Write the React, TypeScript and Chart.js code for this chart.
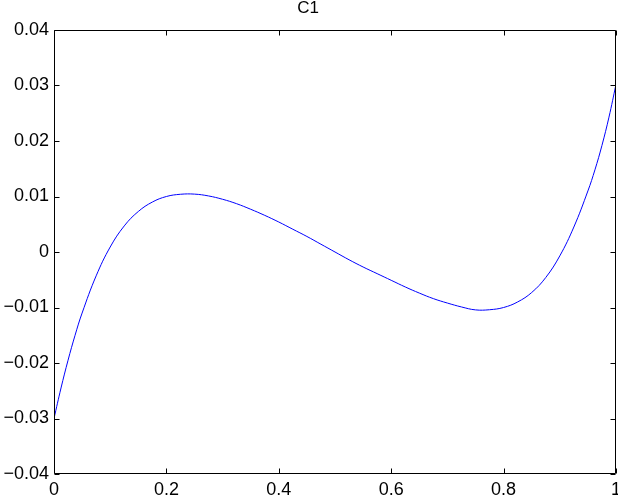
import React, { useEffect, useRef } from "react";
import { Chart, registerables } from "chart.js";

Chart.register(...registerables);

const chartTitle = "C1";
const xValues = [
  0, 0.0125, 0.025, 0.0375, 0.05, 0.075, 0.1, 0.125, 0.15, 0.175, 0.2, 0.225,
  0.25, 0.275, 0.3, 0.325, 0.35, 0.375, 0.4, 0.425, 0.45, 0.475, 0.5, 0.525,
  0.55, 0.575, 0.6, 0.625, 0.65, 0.675, 0.7, 0.725, 0.75, 0.775, 0.8, 0.825,
  0.85, 0.875, 0.9, 0.925, 0.95, 0.9625, 0.975, 0.9875, 1,
];
const yValues = [
  -0.03, -0.0245, -0.0195, -0.015, -0.011, -0.0043, 0.0009, 0.0047, 0.0073,
  0.009, 0.01, 0.0104, 0.01043, 0.0101, 0.0095, 0.0087, 0.0077, 0.0066,
  0.0054, 0.0041, 0.0028, 0.0014, 0.0, -0.0014, -0.0027, -0.0039, -0.0051,
  -0.0063, -0.0074, -0.0084, -0.0092, -0.0099, -0.01043, -0.0104, -0.01,
  -0.009, -0.0073, -0.0046, -0.0007, 0.0045, 0.011, 0.0148, 0.0192, 0.0243,
  0.0302,
];
const xTickValues = [0, 0.2, 0.4, 0.6, 0.8, 1];
const yTickValues = [-0.04, -0.03, -0.02, -0.01, 0, 0.01, 0.02, 0.03, 0.04];

const FONT = "'Liberation Sans', Arial, Helvetica, sans-serif";

const fmt = (v: number) => {
  const n = Number(v.toFixed(4));
  const s = String(Math.abs(n));
  return n < 0 ? "\u2212" + s : s;
};

const boxPlugin = {
  id: "matlabBox",
  afterDraw(chart: any) {
    const { ctx, chartArea } = chart;
    const { left, right, top, bottom } = chartArea;
    const xs = chart.scales.x;
    const ys = chart.scales.y;
    const L = Math.round(left) + 0.5;
    const R = Math.round(right) - 0.5;
    const T = Math.round(top) + 0.5;
    const B = Math.round(bottom) - 0.5;
    const len = 5;
    ctx.save();
    ctx.strokeStyle = "#000";
    ctx.lineWidth = 1;
    ctx.beginPath();
    ctx.rect(L, T, R - L, B - T);
    for (const v of xTickValues) {
      const px = Math.round(xs.getPixelForValue(v)) + 0.5;
      ctx.moveTo(px, B);
      ctx.lineTo(px, B - len);
      ctx.moveTo(px, T);
      ctx.lineTo(px, T + len);
    }
    for (const v of yTickValues) {
      const py = Math.round(ys.getPixelForValue(v)) + 0.5;
      ctx.moveTo(L, py);
      ctx.lineTo(L + len, py);
      ctx.moveTo(R, py);
      ctx.lineTo(R - len, py);
    }
    ctx.stroke();
    ctx.restore();
  },
};

export default function App() {
  const ref = useRef<HTMLCanvasElement | null>(null);
  useEffect(() => {
    if (!ref.current) return;
    const points = xValues.map((x, i) => ({ x, y: yValues[i] }));
    const chart = new Chart(ref.current, {
      type: "line",
      data: {
        datasets: [
          {
            data: points,
            borderColor: "#0000ff",
            borderWidth: 1,
            pointRadius: 0,
            fill: false,
            tension: 0.4,
          },
        ],
      },
      options: {
        responsive: false,
        animation: false,
        layout: { padding: { left: 0, right: 2, top: 0, bottom: 0 } },
        plugins: {
          legend: { display: false },
          tooltip: { enabled: false },
          title: {
            display: true,
            text: chartTitle,
            color: "#000",
            font: { family: FONT, size: 17, weight: "normal", lineHeight: 1 },
            padding: { top: 0, bottom: 13 },
          },
        },
        scales: {
          x: {
            type: "linear",
            min: 0,
            max: 1,
            grid: { display: false, drawTicks: false },
            border: { display: false },
            afterBuildTicks: (scale: any) => {
              scale.ticks = xTickValues.map((v) => ({ value: v }));
            },
            ticks: {
              autoSkip: false,
              maxRotation: 0,
              padding: 5,
              color: "#000",
              font: { family: FONT, size: 18 },
              callback: (v: any) => fmt(Number(v)),
            },
            afterFit: (scale: any) => {
              scale.height = 22;
              scale.paddingLeft = 0;
              scale.paddingRight = 0;
            },
          },
          y: {
            type: "linear",
            min: -0.04,
            max: 0.04,
            grid: { display: false, drawTicks: false },
            border: { display: false },
            afterBuildTicks: (scale: any) => {
              scale.ticks = yTickValues.map((v) => ({ value: v }));
            },
            ticks: {
              autoSkip: false,
              padding: 5,
              color: "#000",
              font: { family: FONT, size: 18 },
              callback: (v: any) => fmt(Number(v)),
            },
            afterFit: (scale: any) => {
              scale.width = 54;
              scale.paddingTop = 0;
              scale.paddingBottom = 0;
            },
          },
        },
      },
      plugins: [boxPlugin],
    });
    return () => chart.destroy();
  }, []);
  return (
    <div style={{ position: "fixed", left: 0, top: 0, width: 618, height: 496, background: "#fff" }}>
      <canvas ref={ref} width={618} height={496} style={{ display: "block" }} />
    </div>
  );
}
